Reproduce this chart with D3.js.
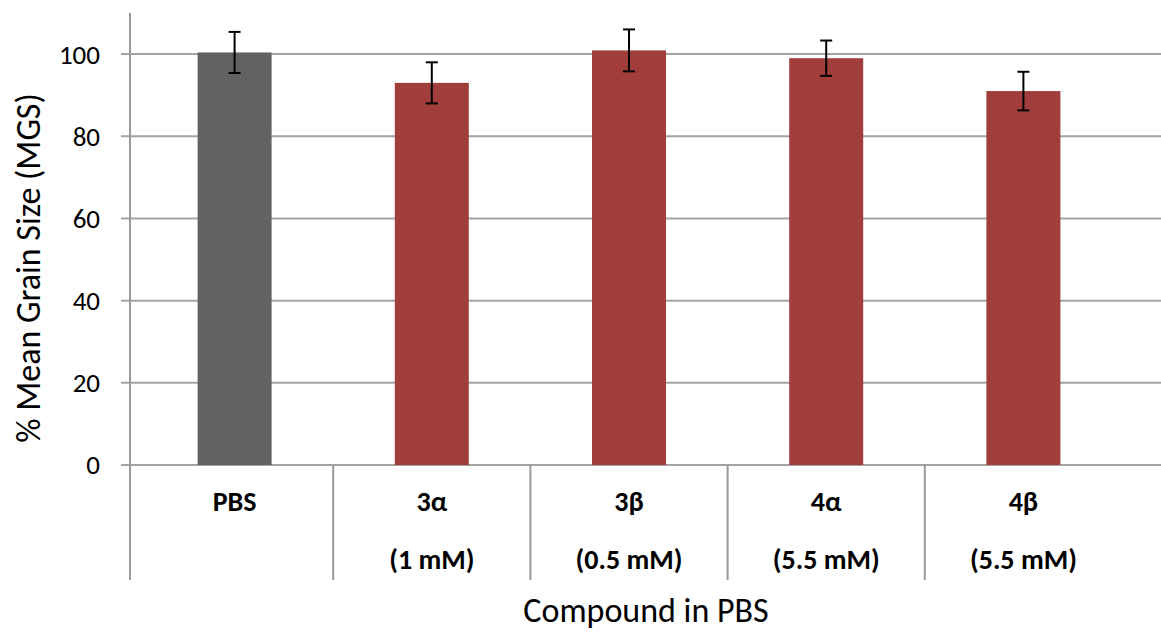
<!DOCTYPE html>
<html>
<head>
<meta charset="utf-8">
<script src="https://cdn.jsdelivr.net/npm/d3@7"></script>
<style>
  body { margin: 0; background: #fff; }
  text { font-family: Carlito, Calibri, Lato, sans-serif; fill: #000; }
</style>
</head>
<body>
<svg width="1161" height="632"></svg>
<script>
(function() {
  let categories = ['PBS', '3α', '3β', '4α', '4β'];
  let concentrations = ['', '(1 mM)', '(0.5 mM)', '(5.5 mM)', '(5.5 mM)'];
  let values = [100.4, 93.0, 100.9, 99.0, 91.0];
  let errors = [5.0, 5.0, 5.1, 4.3, 4.7];
  let barColors = ['#626262', '#a13e3c', '#a13e3c', '#a13e3c', '#a13e3c'];
  let yTicks = [0, 20, 40, 60, 80, 100];

  let svg = d3.select('svg'),
      width = +svg.attr('width');

  let left = 130, top = 13, bottom = 465, catBottom = 580;

  let y = d3.scaleLinear().domain([0, 110]).range([bottom, top]);
  let x = d3.scaleBand().domain(categories).range([136, 1122]).paddingInner(0);
  let barWidth = 74;

  // gridlines + y ticks
  svg.append('g')
    .attr('class', 'grid')
    .selectAll('line')
    .data(yTicks)
    .enter().append('line')
    .attr('x1', left - 9)
    .attr('x2', width)
    .attr('y1', function(d) { return y(d); })
    .attr('y2', function(d) { return y(d); })
    .attr('stroke', '#a3a3a3')
    .attr('stroke-width', 2);

  svg.append('g')
    .selectAll('text')
    .data(yTicks)
    .enter().append('text')
    .attr('x', 100)
    .attr('y', function(d) { return y(d); })
    .attr('dy', '0.35em')
    .attr('text-anchor', 'end')
    .style('font-size', '27px')
    .text(function(d) { return d; });

  // y axis line running down through the category area
  svg.append('line')
    .attr('x1', left).attr('x2', left)
    .attr('y1', top).attr('y2', catBottom)
    .attr('stroke', '#999')
    .attr('stroke-width', 2);

  // category separators
  svg.append('g')
    .selectAll('line')
    .data(categories.slice(1))
    .enter().append('line')
    .attr('x1', function(d) { return x(d); })
    .attr('x2', function(d) { return x(d); })
    .attr('y1', bottom)
    .attr('y2', catBottom)
    .attr('stroke', '#999')
    .attr('stroke-width', 2);

  // bars
  svg.append('g')
    .selectAll('rect')
    .data(values)
    .enter().append('rect')
    .attr('x', function(d, i) { return x(categories[i]) + x.bandwidth() / 2 - barWidth / 2; })
    .attr('y', function(d) { return y(d); })
    .attr('width', barWidth)
    .attr('height', function(d) { return bottom - y(d); })
    .attr('fill', function(d, i) { return barColors[i]; });

  // error bars
  let eb = svg.append('g')
    .selectAll('g')
    .data(values)
    .enter().append('g')
    .attr('transform', function(d, i) {
      return 'translate(' + (x(categories[i]) + x.bandwidth() / 2) + ',0)';
    })
    .attr('stroke', '#000')
    .attr('stroke-width', 2);

  eb.append('line')
    .attr('y1', function(d, i) { return y(d + errors[i]); })
    .attr('y2', function(d, i) { return y(d - errors[i]); });
  eb.append('line')
    .attr('x1', -6).attr('x2', 6)
    .attr('y1', function(d, i) { return y(d + errors[i]); })
    .attr('y2', function(d, i) { return y(d + errors[i]); });
  eb.append('line')
    .attr('x1', -6).attr('x2', 6)
    .attr('y1', function(d, i) { return y(d - errors[i]); })
    .attr('y2', function(d, i) { return y(d - errors[i]); });

  // category labels
  let cat = svg.append('g')
    .selectAll('g')
    .data(categories)
    .enter().append('g')
    .attr('transform', function(d) {
      return 'translate(' + (x(d) + x.bandwidth() / 2) + ',0)';
    });

  cat.append('text')
    .attr('y', 511)
    .attr('text-anchor', 'middle')
    .style('font-size', '28px')
    .style('font-weight', 'bold')
    .text(function(d) { return d; });

  cat.append('text')
    .attr('y', 569)
    .attr('text-anchor', 'middle')
    .style('font-size', '28px')
    .style('font-weight', 'bold')
    .text(function(d, i) { return concentrations[i]; });

  // axis titles
  svg.append('text')
    .attr('x', 646)
    .attr('y', 622)
    .attr('text-anchor', 'middle')
    .style('font-size', '34px')
    .text('Compound in PBS');

  svg.append('text')
    .attr('transform', 'translate(28,' + 268 + ') rotate(-90)')
    .attr('text-anchor', 'middle')
    .attr('dy', '0.35em')
    .style('font-size', '34px')
    .text('% Mean Grain Size (MGS)');
})();
</script>
</body>
</html>
